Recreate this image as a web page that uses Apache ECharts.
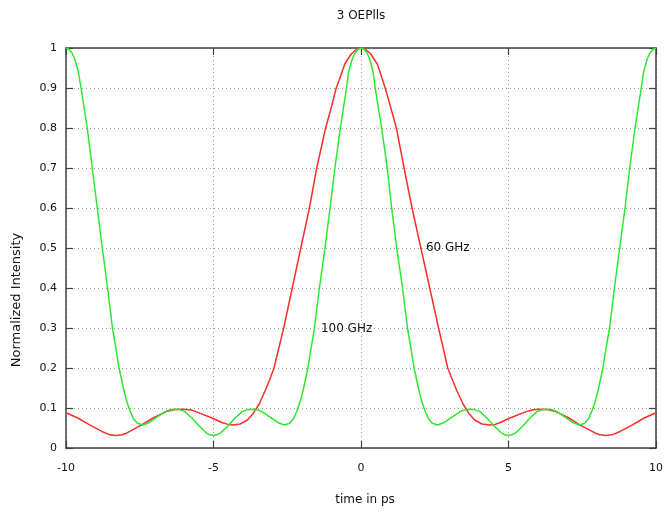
<!DOCTYPE html>
<html>
<head>
<meta charset="utf-8">
<script src="https://cdn.jsdelivr.net/npm/echarts@6/dist/echarts.min.js"></script>
<style>
html,body{margin:0;padding:0;background:#fff;}
#main{width:666px;height:516px;}
</style>
</head>
<body>
<div id="main"></div>
<script>
// ---- data ----
const titleText = '3 OEPlls';
const xAxisName = 'time in ps';
const yAxisName = 'Normalized Intensity';
const xTicks = [-10, -5, 0, 5, 10];
const yTickLabels = ['0','0.1','0.2','0.3','0.4','0.5','0.6','0.7','0.8','0.9','1'];

// 60 GHz (red)  [time ps, intensity]
const red60 = [
  [-10,0.088],[-9.6,0.075],[-9.2,0.058],[-8.8,0.042],[-8.55,0.034],[-8.33,0.031],[-8.1,0.033],[-7.95,0.037],
  [-7.45,0.057],[-7.05,0.075],[-6.6,0.091],[-6.3,0.096],[-6.02,0.097],[-5.75,0.095],[-5.6,0.091],[-5.05,0.075],
  [-4.7,0.063],[-4.5,0.059],[-4.32,0.0575],[-4.1,0.06],[-3.85,0.07],[-3.65,0.087],[-3.45,0.11],
  [-3.24,0.145],[-3.09,0.172],[-2.95,0.2],[-2.62,0.3],[-2.33,0.4],[-2.04,0.5],[-1.75,0.6],
  [-1.5,0.7],[-1.2,0.8],[-1.0,0.853],[-0.84,0.9],[-0.68,0.932],[-0.55,0.96],[-0.33,0.985],[-0.15,0.997],[0,1.0],
  [0.15,0.997],[0.33,0.985],[0.55,0.96],[0.68,0.932],[0.82,0.9],[1.0,0.853],[1.2,0.8],[1.46,0.7],[1.73,0.6],
  [2.03,0.5],[2.33,0.4],[2.63,0.3],[2.94,0.2],[3.09,0.172],[3.24,0.145],[3.46,0.11],
  [3.65,0.087],[3.85,0.07],[4.1,0.06],[4.36,0.0575],[4.55,0.059],[4.7,0.063],[5.05,0.075],
  [5.6,0.091],[5.8,0.095],[6.0,0.097],[6.3,0.096],[6.6,0.091],[7.05,0.075],[7.43,0.057],[7.95,0.037],
  [8.1,0.033],[8.3,0.031],[8.55,0.034],[8.8,0.042],[9.2,0.058],[9.6,0.075],[10,0.088]
];

// 100 GHz (green)  [time ps, intensity]
const green100 = [
  [-10,1.0],[-9.9,0.997],[-9.8,0.988],[-9.7,0.972],[-9.58,0.94],[-9.49,0.9],[-9.28,0.8],
  [-9.11,0.7],[-8.94,0.6],[-8.77,0.5],[-8.59,0.4],[-8.425,0.3],[-8.31,0.25],[-8.2,0.2],
  [-8.04,0.145],[-7.94,0.116],[-7.83,0.093],[-7.72,0.074],[-7.58,0.062],[-7.39,0.0575],
  [-7.2,0.063],[-6.98,0.074],[-6.64,0.091],[-6.5,0.095],[-6.35,0.097],[-6.15,0.096],[-5.97,0.091],[-5.73,0.075],
  [-5.51,0.057],[-5.23,0.037],[-5.12,0.033],[-5.0,0.031],[-4.88,0.033],[-4.77,0.037],[-4.49,0.057],[-4.27,0.075],
  [-4.03,0.091],[-3.85,0.096],[-3.64,0.097],[-3.5,0.095],[-3.36,0.091],[-3.02,0.074],[-2.8,0.063],[-2.6,0.0575],
  [-2.42,0.062],[-2.28,0.074],[-2.17,0.093],[-2.06,0.116],[-1.96,0.145],[-1.8,0.2],[-1.69,0.25],
  [-1.58,0.3],[-1.41,0.4],[-1.22,0.5],[-1.05,0.6],[-0.885,0.7],[-0.7,0.8],
  [-0.49,0.9],[-0.42,0.94],[-0.3,0.972],[-0.2,0.988],[-0.1,0.997],[0,1.0],
  [0.1,0.997],[0.2,0.988],[0.3,0.972],[0.41,0.94],[0.48,0.9],[0.7,0.8],[0.89,0.7],
  [1.04,0.6],[1.21,0.5],[1.41,0.4],[1.575,0.3],[1.69,0.25],[1.8,0.2],[1.96,0.145],
  [2.06,0.116],[2.17,0.093],[2.28,0.074],[2.42,0.062],[2.6,0.0575],[2.8,0.063],
  [3.02,0.074],[3.36,0.091],[3.5,0.095],[3.63,0.097],[3.85,0.096],[4.03,0.091],[4.27,0.075],[4.49,0.057],
  [4.77,0.037],[4.88,0.033],[5.0,0.031],[5.12,0.033],[5.23,0.037],[5.51,0.057],[5.73,0.075],[5.97,0.091],
  [6.15,0.096],[6.36,0.097],[6.5,0.095],[6.64,0.091],[6.98,0.074],[7.2,0.063],[7.4,0.0575],[7.58,0.062],
  [7.72,0.074],[7.83,0.093],[7.94,0.116],[8.04,0.145],[8.2,0.2],[8.31,0.25],[8.425,0.3],
  [8.59,0.4],[8.77,0.5],[8.95,0.6],[9.11,0.7],[9.29,0.8],[9.5,0.9],
  [9.58,0.94],[9.7,0.972],[9.8,0.988],[9.9,0.997],[10,1.0]
];

// curve labels: [text, x (ps), y (intensity)] — left anchor of the text
const curveLabels = [
  ['60 GHz', 2.2, 0.5],
  ['100 GHz', -1.36, 0.298]
];

// ---- chart ----
const FONT = 'DejaVu Sans';
const borderColor = '#404040';
const textColor = '#111';
const chart = echarts.init(document.getElementById('main'));

function mkX(pos, labels) {
  return {
    type: 'value', position: pos, min: xTicks[0], max: xTicks[xTicks.length - 1], interval: 5,
    axisLine: { show: true, onZero: false, lineStyle: { color: borderColor, width: 1.5 } },
    axisTick: { show: true, inside: true, length: 7, lineStyle: { color: borderColor, width: 1.2 } },
    axisLabel: { show: labels, margin: 15, color: textColor, fontFamily: FONT, fontSize: 11 },
    splitLine: { show: labels, lineStyle: { type: [1, 3], color: '#9a9a9a', width: 1 } }
  };
}
function mkY(pos, labels) {
  return {
    type: 'value', position: pos, min: 0, max: 1, interval: 0.1,
    axisLine: { show: true, onZero: false, lineStyle: { color: borderColor, width: 1.5 } },
    axisTick: { show: true, inside: true, length: 7, lineStyle: { color: borderColor, width: 1.2 } },
    axisLabel: {
      show: labels, margin: 9, color: textColor, fontFamily: FONT, fontSize: 11,
      formatter: function (v) { return yTickLabels[Math.round(v * 10)]; }
    },
    splitLine: { show: labels, lineStyle: { type: [1, 3], color: '#9a9a9a', width: 1 } }
  };
}

chart.setOption({
  animation: false,
  backgroundColor: '#ffffff',
  grid: { left: 66, right: 10, top: 48, bottom: 68, containLabel: false },
  xAxis: [mkX('bottom', true), mkX('top', false)],
  yAxis: [mkY('left', true), mkY('right', false)],
  series: [
    {
      name: '60 GHz', type: 'line', xAxisIndex: 0, yAxisIndex: 0,
      data: red60, showSymbol: false, smooth: false, clip: true,
      lineStyle: { color: '#ff2d2d', width: 1.5, join: 'round' }, z: 2
    },
    {
      name: '100 GHz', type: 'line', xAxisIndex: 0, yAxisIndex: 0,
      data: green100, showSymbol: false, smooth: false, clip: true,
      lineStyle: { color: '#2ee82e', width: 1.5, join: 'round' }, z: 3
    }
  ]
});

const graphics = [];
const tc = chart.convertToPixel({ gridIndex: 0 }, [0, 0.5]);
graphics.push({
  type: 'text', x: tc[0], y: 16,
  style: { text: titleText, fontFamily: FONT, fontSize: 12, fill: textColor, align: 'center', verticalAlign: 'middle' }
});
graphics.push({
  type: 'text', x: tc[0] + 4, y: 500,
  style: { text: xAxisName, fontFamily: FONT, fontSize: 12, fill: textColor, align: 'center', verticalAlign: 'middle' }
});
graphics.push({
  type: 'text', x: 17, y: 300, rotation: Math.PI / 2,
  style: { text: yAxisName, fontFamily: FONT, fontSize: 13, fill: textColor, align: 'center', verticalAlign: 'middle' }
});
curveLabels.forEach(function (l) {
  const p = chart.convertToPixel({ gridIndex: 0 }, [l[1], l[2]]);
  graphics.push({
    type: 'text', x: p[0], y: p[1], z: 10,
    style: { text: l[0], fontFamily: FONT, fontSize: 12, fill: textColor, align: 'left', verticalAlign: 'middle' }
  });
});
chart.setOption({ graphic: graphics });
</script>
</body>
</html>
